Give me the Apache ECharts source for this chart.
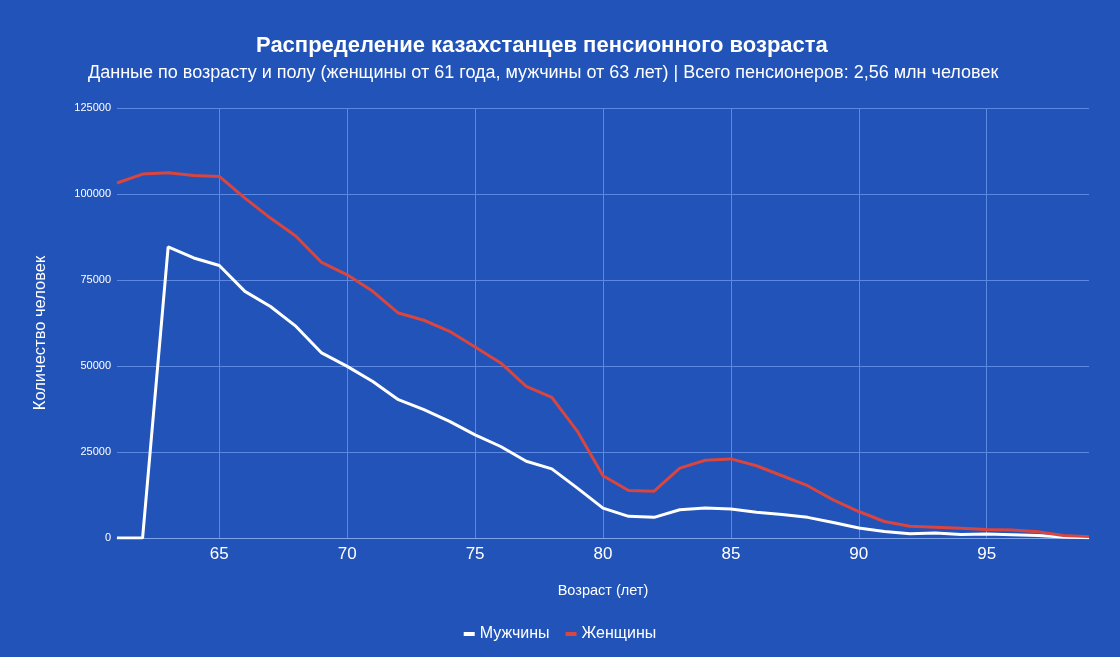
<!DOCTYPE html>
<html>
  <head>
    <meta charset="utf-8">
    <title>Пенсионеры Казахстана</title>
    <script src="https://cdn.jsdelivr.net/npm/echarts@6/dist/echarts.min.js"></script>
    <style>
      html, body { margin: 0; padding: 0; background: #2153b9; }
      #main { width: 1120px; height: 657px; }
    </style>
  </head>
  <body>
    <div id="main"></div>
    <script>
// возраст 61..99
var ages = [];
for (var a = 61; a <= 99; a++) ages.push(String(a));

// мужчины (пенсия с 63 лет)
var men = [0, 0, 84600, 81400, 79200, 71700, 67300, 61500, 53800, 49900,
  45500, 40200, 37300, 33900, 30000, 26600, 22300, 20100, 14500, 8700,
  6300, 6000, 8200, 8700, 8400, 7500, 6800, 6000, 4500, 2900,
  1900, 1250, 1450, 1050, 1150, 950, 700, 300, 100];

// женщины (пенсия с 61 года)
var women = [103200, 105800, 106200, 105400, 105100, 98800, 93000, 87700, 80100, 76500,
  71700, 65400, 63300, 60100, 55500, 50900, 44100, 40900, 31000, 18100,
  13800, 13600, 20300, 22600, 23000, 21000, 18100, 15200, 11100, 7700,
  4800, 3400, 3100, 2800, 2500, 2300, 1800, 700, 400];

var yTicks = [0, 25000, 50000, 75000, 100000, 125000];

var myChart = echarts.init(document.getElementById('main'));
var font = '"Liberation Sans", Arial, sans-serif';
var gridColor = '#5a88e2';

myChart.setOption({
    backgroundColor: '#2153b9',
    textStyle: { fontFamily: font },
    title: [{
        text: 'Распределение казахстанцев пенсионного возраста',
        left: 251,
        top: 30,
        textStyle: { color: '#fff', fontSize: 22, fontWeight: 'bold', fontFamily: font }
    }, {
        text: 'Данные по возрасту и полу (женщины от 61 года, мужчины от 63 лет) | Всего пенсионеров: 2,56 млн человек',
        left: 83,
        top: 59,
        textStyle: { color: '#fff', fontSize: 18, fontWeight: 'normal', fontFamily: font }
    }],
    legend: {
        data: ['Мужчины', 'Женщины'],
        bottom: 10,
        left: 'center',
        icon: 'rect',
        itemWidth: 11,
        itemHeight: 4,
        itemGap: 16,
        textStyle: { color: '#fff', fontSize: 16, fontFamily: font }
    },
    grid: { left: 117, right: 31, top: 108, bottom: 119 },
    xAxis: {
        type: 'category',
        data: ages,
        boundaryGap: false,
        name: 'Возраст (лет)',
        nameLocation: 'middle',
        nameGap: 45,
        nameTextStyle: { color: '#fff', fontSize: 14.5 },
        axisLine: { lineStyle: { color: '#7ea4ee', width: 1 } },
        axisTick: { show: false },
        axisLabel: {
            color: '#fff', fontSize: 17, margin: 8,
            interval: function (i, v) { return Number(v) % 5 === 0; }
        },
        splitLine: {
            show: true,
            interval: function (i, v) { return Number(v) % 5 === 0; },
            lineStyle: { color: gridColor, width: 1 }
        }
    },
    yAxis: {
        type: 'value',
        min: yTicks[0],
        max: yTicks[yTicks.length - 1],
        interval: 25000,
        name: 'Количество человек',
        nameLocation: 'middle',
        nameGap: 68,
        nameTextStyle: { color: '#fff', fontSize: 16.5, padding: [0, 20, 0, 0] },
        axisLine: { show: false },
        axisTick: { show: false },
        axisLabel: {
            color: '#fff', fontSize: 11, margin: 6,
            formatter: function (v) { return String(v); }
        },
        splitLine: { lineStyle: { color: gridColor, width: 1 } }
    },
    series: [{
        name: 'Мужчины',
        type: 'line',
        data: men,
        showSymbol: false,
        color: '#ffffff',
        lineStyle: { width: 3, color: '#ffffff' }
    }, {
        name: 'Женщины',
        type: 'line',
        data: women,
        showSymbol: false,
        color: '#d9463f',
        lineStyle: { width: 3, color: '#d9463f' }
    }]
});
    </script>
  </body>
</html>
